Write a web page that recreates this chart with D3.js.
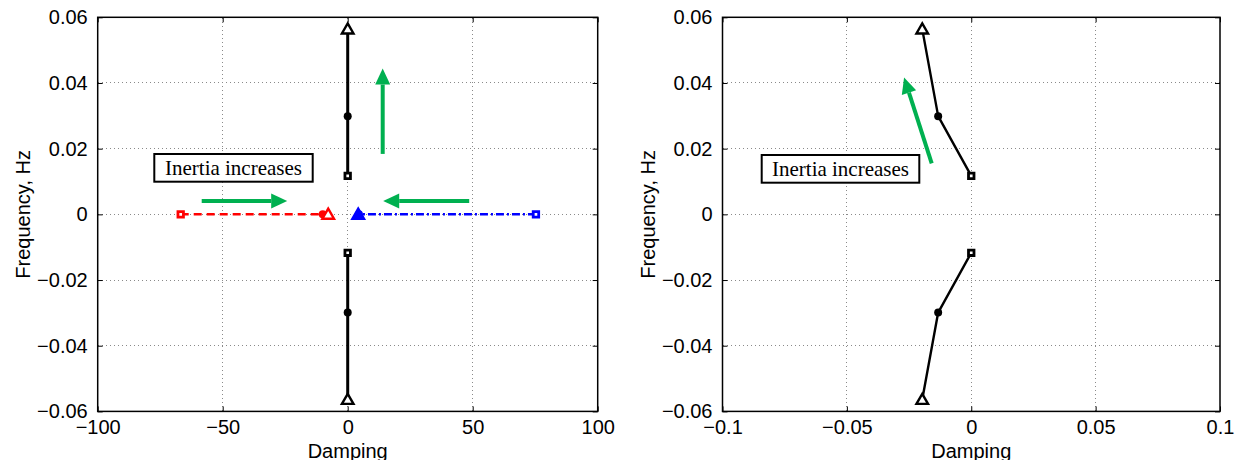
<!DOCTYPE html>
<html>
<head>
<meta charset="utf-8">
<script src="https://cdn.jsdelivr.net/npm/d3@7"></script>
<style>
  html, body { margin: 0; padding: 0; background: #fff; }
  svg { display: block; }
</style>
</head>
<body>
<svg id="chart" width="1235" height="460"></svg>
<script>
// ---------------- DATA ----------------
// order of points in each series: low inertia (square), mid (dot), high inertia (triangle)
const freqUpper = [0.0117, 0.0299, 0.0564];
const freqLower = [-0.0117, -0.0299, -0.0564];
const leftBlackDamp = [0, 0, 0];
const redDamp = [-66.8, -10, -7.8];
const redFreq = [0, 0, 0];
const blueDamp = [75.3, 4.5, 4.2];
const blueFreq = [0, 0, 0];
const rightBlackDamp = [0, -0.0133, -0.0197];

const leftXTicks = [-100, -50, 0, 50, 100];
const leftXTickLabels = ["\u2212100", "\u221250", "0", "50", "100"];
const rightXTicks = [-0.1, -0.05, 0, 0.05, 0.1];
const rightXTickLabels = ["\u22120.1", "\u22120.05", "0", "0.05", "0.1"];
const yTicks = [-0.06, -0.04, -0.02, 0, 0.02, 0.04, 0.06];
const yTickLabels = ["\u22120.06", "\u22120.04", "\u22120.02", "0", "0.02", "0.04", "0.06"];

// annotation arrows (data coordinates: [x0, y0, x1, y1])
const leftArrows = [
  [-58.4, 0.0041, -24.2, 0.0041],
  [48.6, 0.0041, 14.2, 0.0041],
  [14.0, 0.0184, 14.0, 0.0444]
];
const rightArrows = [
  [-0.0159, 0.0155, -0.0270, 0.0417]
];
const annotationText = "Inertia increases";
const xLabel = "Damping";
const yLabel = "Frequency, Hz";

// ---------------- DRAW ----------------
const svg = d3.select("#chart");
const green = "#00b050";
const sans = "'Liberation Sans', Arial, Helvetica, sans-serif";
const serif = "'Liberation Serif', 'Times New Roman', serif";

function panel(opts) {
  const g = svg.append("g");
  const x = d3.scaleLinear().domain(opts.xDomain).range([opts.left, opts.right]);
  const y = d3.scaleLinear().domain([-0.06, 0.06]).range([411.4, 17.3]);
  const [x0, x1] = x.range();
  const [y0, y1] = [y(-0.06), y(0.06)];

  // grid
  const grid = g.append("g").attr("stroke", "#8a8a8a").attr("stroke-width", 1)
    .attr("stroke-dasharray", "1,3").attr("shape-rendering", "crispEdges");
  opts.xTicks.slice(1, -1).forEach(t => {
    grid.append("line").attr("x1", x(t)).attr("x2", x(t)).attr("y1", y0).attr("y2", y1);
  });
  yTicks.slice(1, -1).forEach(t => {
    grid.append("line").attr("x1", x0).attr("x2", x1).attr("y1", y(t)).attr("y2", y(t));
  });

  // axes via d3 axis generators (inward ticks, all four sides)
  const axStyle = sel => {
    sel.select(".domain").remove();
    sel.selectAll(".tick line").attr("stroke", "#000").attr("stroke-width", 1);
  };
  g.append("g").attr("transform", `translate(0,${y0})`)
    .call(d3.axisBottom(x).tickValues(opts.xTicks).tickSize(-5)
      .tickFormat((d, i) => opts.xTickLabels[i]).tickPadding(8))
    .call(axStyle)
    .selectAll("text").attr("font-family", sans).attr("font-size", 20).attr("fill", "#000")
    .attr("dy", "0.71em");
  g.append("g").attr("transform", `translate(0,${y1})`)
    .call(d3.axisTop(x).tickValues(opts.xTicks).tickSize(-5).tickFormat(""))
    .call(axStyle);
  g.append("g").attr("transform", `translate(${x0},0)`)
    .call(d3.axisLeft(y).tickValues(yTicks).tickSize(-5)
      .tickFormat((d, i) => yTickLabels[i]).tickPadding(10))
    .call(axStyle)
    .selectAll("text").attr("font-family", sans).attr("font-size", 20).attr("fill", "#000");
  g.append("g").attr("transform", `translate(${x1},0)`)
    .call(d3.axisRight(y).tickValues(yTicks).tickSize(-5).tickFormat(""))
    .call(axStyle);

  g.append("rect").attr("x", x0).attr("y", y1).attr("width", x1 - x0).attr("height", y0 - y1)
    .attr("fill", "none").attr("stroke", "#000").attr("stroke-width", 1.5);

  // axis labels
  g.append("text").attr("x", (x0 + x1) / 2).attr("y", 457.5)
    .attr("text-anchor", "middle").attr("font-family", sans).attr("font-size", 20)
    .text(xLabel);
  g.append("text")
    .attr("transform", `translate(${x0 - 68},${(y0 + y1) / 2}) rotate(-90)`)
    .attr("text-anchor", "middle").attr("font-family", sans).attr("font-size", 20)
    .text(yLabel);

  return { g, x, y };
}

function line(p, xs, ys, color, width, dash) {
  const pts = xs.map((d, i) => [d, ys[i]]);
  p.g.append("path").datum(pts)
    .attr("d", d3.line().x(d => p.x(d[0])).y(d => p.y(d[1])))
    .attr("fill", "none").attr("stroke", color).attr("stroke-width", width)
    .attr("stroke-dasharray", dash || null).attr("stroke-linejoin", "round");
}

function markers(p, xs, ys, color, triFill) {
  const sq = d3.symbol().type(d3.symbolSquare).size(30);
  const tri = d3.symbol().type(d3.symbolTriangle).size(58);
  // square (first point)
  p.g.append("path").attr("d", sq())
    .attr("transform", `translate(${p.x(xs[0])},${p.y(ys[0])})`)
    .attr("fill", "#fff").attr("stroke", color).attr("stroke-width", 2.8);
  // dot (second point)
  p.g.append("circle").attr("cx", p.x(xs[1])).attr("cy", p.y(ys[1])).attr("r", 4)
    .attr("fill", color);
  // triangle (third point)
  p.g.append("path").attr("d", tri())
    .attr("transform", `translate(${p.x(xs[2])},${p.y(ys[2]) + 1})`)
    .attr("fill", triFill).attr("stroke", color).attr("stroke-width", 2.4)
    .attr("stroke-linejoin", "miter");
}

function arrow(p, a) {
  const X0 = p.x(a[0]), Y0 = p.y(a[1]), X1 = p.x(a[2]), Y1 = p.y(a[3]);
  const ang = Math.atan2(Y1 - Y0, X1 - X0);
  const headLen = 16, headW = 7.5;
  const bx = X1 - headLen * Math.cos(ang), by = Y1 - headLen * Math.sin(ang);
  p.g.append("line").attr("x1", X0).attr("y1", Y0).attr("x2", bx).attr("y2", by)
    .attr("stroke", green).attr("stroke-width", 4);
  const nx = -Math.sin(ang), ny = Math.cos(ang);
  p.g.append("path")
    .attr("d", `M${X1},${Y1}L${bx + nx * headW},${by + ny * headW}L${bx - nx * headW},${by - ny * headW}Z`)
    .attr("fill", green);
}

function textBox(p, bx, by, bw, bh) {
  p.g.append("rect").attr("x", bx).attr("y", by).attr("width", bw).attr("height", bh)
    .attr("fill", "#fff").attr("stroke", "#000").attr("stroke-width", 2);
  p.g.append("text").attr("x", bx + bw / 2).attr("y", by + bh / 2 + 7)
    .attr("text-anchor", "middle").attr("font-family", serif).attr("font-size", 21)
    .text(annotationText);
}

// ---- left panel ----
const L = panel({ xDomain: [-100, 100], left: 97.7, right: 597.7,
  xTicks: leftXTicks, xTickLabels: leftXTickLabels });
line(L, leftBlackDamp, freqUpper, "#000", 3);
line(L, leftBlackDamp, freqLower, "#000", 3);
line(L, redDamp, redFreq, "#ff0000", 2.5, "8,5");
line(L, blueDamp, blueFreq, "#0000ff", 2.5, "8,3,2,3");
markers(L, leftBlackDamp, freqUpper, "#000", "#fff");
markers(L, leftBlackDamp, freqLower, "#000", "#fff");
markers(L, redDamp, redFreq, "#ff0000", "#fff");
markers(L, blueDamp, blueFreq, "#0000ff", "#0000ff");
leftArrows.forEach(a => arrow(L, a));
textBox(L, 154.3, 154, 158.4, 27.7);

// ---- right panel ----
const R = panel({ xDomain: [-0.1, 0.1], left: 722.5, right: 1220,
  xTicks: rightXTicks, xTickLabels: rightXTickLabels });
line(R, rightBlackDamp, freqUpper, "#000", 2.4);
line(R, rightBlackDamp, freqLower, "#000", 2.4);
markers(R, rightBlackDamp, freqUpper, "#000", "#fff");
markers(R, rightBlackDamp, freqLower, "#000", "#fff");
rightArrows.forEach(a => arrow(R, a));
textBox(R, 761.7, 155, 157.6, 27.7);
</script>
</body>
</html>
